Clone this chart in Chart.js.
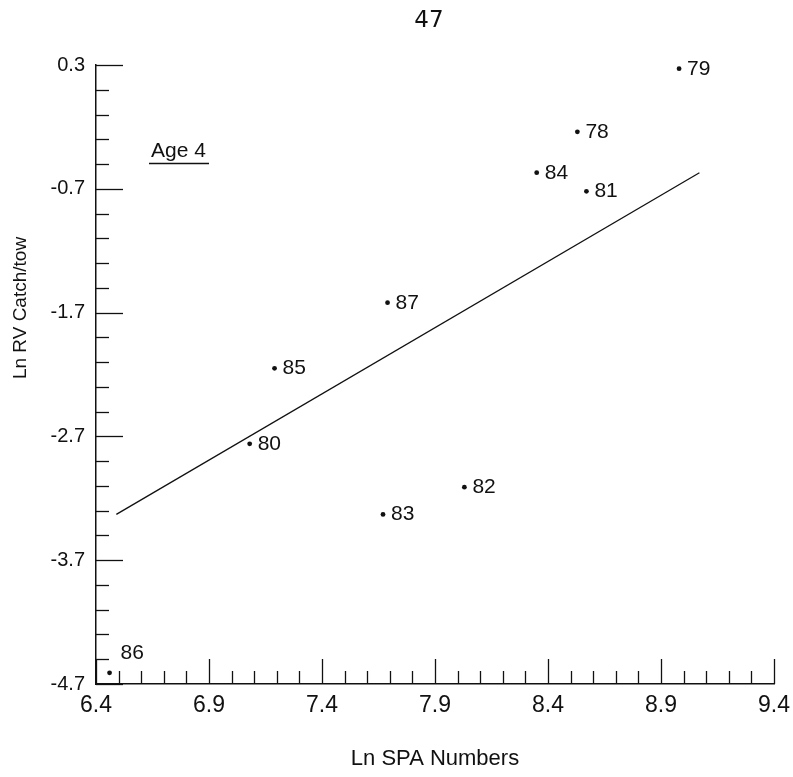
<!DOCTYPE html>
<html>
<head>
<meta charset="utf-8">
<script src="https://cdn.jsdelivr.net/npm/chart.js@4.4.1/dist/chart.umd.min.js"></script>
<style>
  body { margin: 0; background: #fff; }
  #wrap { width: 793px; height: 777px; }
</style>
</head>
<body>
<div id="wrap"><canvas id="chart" width="793" height="777"></canvas></div>
<script>
// year labels and values
const years = ['79', '78', '84', '81', '87', '85', '80', '82', '83', '86'];
const lnSpa = [8.98, 8.53, 8.35, 8.57, 7.69, 7.19, 7.08, 8.03, 7.67, 6.46];
const lnCatch = [0.27, -0.24, -0.57, -0.72, -1.62, -2.15, -2.76, -3.11, -3.33, -4.61];

// regression line end points
const fitX = [6.49, 9.07];
const fitY = [-3.33, -0.57];

const xTickLabels = ['6.4', '6.9', '7.4', '7.9', '8.4', '8.9', '9.4'];
const yTickLabels = ['-4.7', '-3.7', '-2.7', '-1.7', '-0.7', '0.3'];

const FONT = "'Liberation Sans', Arial, Helvetica, sans-serif";
const INK = '#111';

// ticks point inward, so draw them by hand from the scales
const innerTicks = {
    id: 'innerTicks',
    afterDraw(chart) {
        const ctx = chart.ctx;
        const area = chart.chartArea;
        const xs = chart.scales.x;
        const ys = chart.scales.y;
        ctx.save();
        ctx.strokeStyle = INK;
        ctx.lineWidth = 1.3;
        xs.ticks.forEach((t, i) => {
            const px = Math.round(xs.getPixelForTick(i)) + 0.5;
            const len = i % 5 === 0 ? 25 : 13;
            ctx.beginPath();
            ctx.moveTo(px, area.bottom);
            ctx.lineTo(px, area.bottom - len);
            ctx.stroke();
        });
        ys.ticks.forEach((t, i) => {
            const py = Math.round(ys.getPixelForTick(i)) + 0.5;
            const len = i % 5 === 0 ? 27 : 13;
            ctx.beginPath();
            ctx.moveTo(area.left, py);
            ctx.lineTo(area.left + len, py);
            ctx.stroke();
        });
        ctx.restore();
    }
};

// year labels next to the dots, plus the text bits of the figure
const annotations = {
    id: 'annotations',
    afterDraw(chart) {
        const ctx = chart.ctx;
        const area = chart.chartArea;
        const meta = chart.getDatasetMeta(0);
        ctx.save();
        ctx.fillStyle = INK;
        ctx.font = '21px ' + FONT;
        ctx.textAlign = 'left';
        ctx.textBaseline = 'alphabetic';
        meta.data.forEach((pt, i) => {
            if (years[i] === '86') {
                ctx.fillText(years[i], pt.x + 11, pt.y - 14);
            } else {
                ctx.fillText(years[i], pt.x + 8, pt.y + 6);
            }
        });

        // panel label
        ctx.fillText('Age 4', 151, 157);
        ctx.strokeStyle = INK;
        ctx.lineWidth = 1.5;
        ctx.beginPath();
        ctx.moveTo(149, 163.5);
        ctx.lineTo(209, 163.5);
        ctx.stroke();

        // axis titles
        ctx.font = '22px ' + FONT;
        ctx.textAlign = 'center';
        ctx.textBaseline = 'middle';
        ctx.fillText('Ln SPA Numbers', (area.left + area.right) / 2, 759);
        ctx.font = '19px ' + FONT;
        ctx.save();
        ctx.translate(21, 308);
        ctx.rotate(-Math.PI / 2);
        ctx.fillText('Ln RV Catch/tow', 0, 0);
        ctx.restore();

        // page number
        ctx.font = "23px 'DejaVu Sans', sans-serif";
        ctx.fillText('47', 429, 21);
        ctx.restore();
    }
};

const ctx = document.getElementById('chart').getContext('2d');
new Chart(ctx, {
    type: 'scatter',
    data: {
        datasets: [
            {
                data: lnSpa.map((x, i) => ({ x: x, y: lnCatch[i] })),
                pointRadius: 2.4,
                pointBackgroundColor: INK,
                pointBorderWidth: 0,
                showLine: false,
            },
            {
                type: 'line',
                data: fitX.map((x, i) => ({ x: x, y: fitY[i] })),
                borderColor: INK,
                borderWidth: 1.3,
                pointRadius: 0,
                fill: false,
            },
        ],
    },
    options: {
        responsive: false,
        animation: false,
        events: [],
        layout: { padding: { top: 65, right: 19, left: 0, bottom: 0 } },
        plugins: {
            legend: { display: false },
            tooltip: { enabled: false },
        },
        scales: {
            x: {
                type: 'linear',
                min: 6.4,
                max: 9.4,
                grid: { display: false, drawTicks: false },
                border: { display: true, color: INK, width: 1.5 },
                ticks: {
                    stepSize: 0.1,
                    autoSkip: false,
                    maxRotation: 0,
                    padding: 8,
                    color: INK,
                    font: { family: FONT, size: 23 },
                    callback: (v, i) => (i % 5 === 0 ? xTickLabels[i / 5] : ''),
                },
                afterFit: (scale) => {
                    scale.height = 93;
                    scale.paddingLeft = 0;
                    scale.paddingRight = 0;
                },
            },
            y: {
                type: 'linear',
                min: -4.7,
                max: 0.3,
                grid: { display: false, drawTicks: false },
                border: { display: true, color: INK, width: 1.5 },
                ticks: {
                    stepSize: 0.2,
                    autoSkip: false,
                    padding: 11,
                    color: INK,
                    font: { family: FONT, size: 20 },
                    callback: (v, i) => (i % 5 === 0 ? yTickLabels[i / 5] : ''),
                },
                afterFit: (scale) => {
                    scale.width = 96;
                    scale.paddingTop = 0;
                    scale.paddingBottom = 0;
                },
            },
        },
    },
    plugins: [innerTicks, annotations],
});
</script>
</body>
</html>
